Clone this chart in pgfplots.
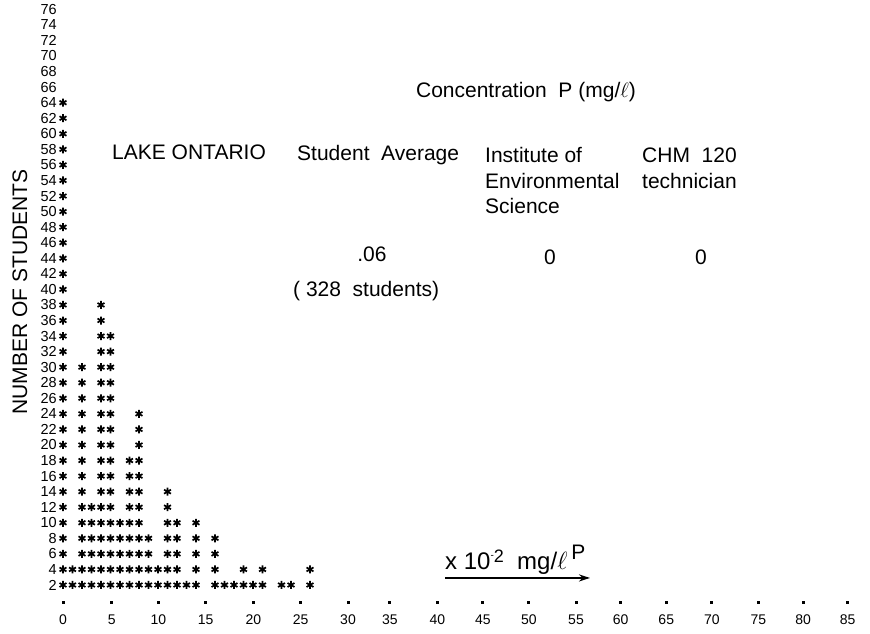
\documentclass[border=0pt]{standalone}
\usepackage{fontspec}
\setmainfont{Liberation Sans}
\usepackage{pgfplots}
\pgfplotsset{compat=1.18}
\usetikzlibrary{arrows.meta}
\begin{document}
\begin{tikzpicture}
\begin{axis}[
  scale only axis, width=807pt, height=600.56pt,
  xmin=0, xmax=84.947, ymin=0, ymax=77.2,
  axis x line*=bottom, axis y line*=left,
  axis line style={draw=none},
  clip=false,
  xtick={0,5.13,10.05,15.02,20.03,25.02,30,34.4,39.4,44.2,49.05,54.0,58.7,63.5,68.3,73.2,77.9,82.6},
  xticklabels={0,5,10,15,20,25,30,35,40,45,50,55,60,65,70,75,80,85},
  x tick style={line width=3pt, black},
  major tick length=3pt, tick align=outside,
  ytick={2,4,...,76}, y tick style={draw=none},
  /pgf/number format/assume math mode=true,
  xticklabel style={font=\fontsize{14}{14}\selectfont, anchor=north, inner sep=0pt, yshift=-11pt},
  yticklabel style={font=\fontsize{14.5}{14.5}\selectfont, anchor=east, inner sep=0pt, xshift=-3pt},
]
\addplot[only marks, mark=asterisk, mark size=4pt, mark options={line width=1.7pt, black}] coordinates {
 (0,2)(1,2)(2,2)(3,2)(4,2)(5,2)(6,2)(7,2)(8,2)(9,2)(10,2)(11,2)(12,2)(13,2)(14,2)(16,2)(17,2)(18,2)(19,2)(20,2)(21,2)(23,2)(24,2)(26,2)
 (0,4)(1,4)(2,4)(3,4)(4,4)(5,4)(6,4)(7,4)(8,4)(9,4)(10,4)(11,4)(12,4)(14,4)(16,4)(19,4)(21,4)(26,4)
 (0,6)(2,6)(3,6)(4,6)(5,6)(6,6)(7,6)(8,6)(9,6)(11,6)(12,6)(14,6)(16,6)
 (0,8)(2,8)(3,8)(4,8)(5,8)(6,8)(7,8)(8,8)(9,8)(11,8)(12,8)(14,8)(16,8)
 (0,10)(2,10)(3,10)(4,10)(5,10)(6,10)(7,10)(8,10)(11,10)(12,10)(14,10)
 (0,12)(2,12)(3,12)(4,12)(5,12)(7,12)(8,12)(11,12)
 (0,14)(2,14)(4,14)(5,14)(7,14)(8,14)(11,14)
 (0,16)(2,16)(4,16)(5,16)(7,16)(8,16)
 (0,18)(2,18)(4,18)(5,18)(7,18)(8,18)
 (0,20)(2,20)(4,20)(5,20)(8,20)
 (0,22)(2,22)(4,22)(5,22)(8,22)
 (0,24)(2,24)(4,24)(5,24)(8,24)
 (0,26)(2,26)(4,26)(5,26)
 (0,28)(2,28)(4,28)(5,28)
 (0,30)(2,30)(4,30)(5,30)
 (0,32)(4,32)(5,32)
 (0,34)(4,34)(5,34)
 (0,36)(4,36)
 (0,38)(4,38)
 (0,40)(0,42)(0,44)(0,46)(0,48)(0,50)(0,52)(0,54)(0,56)(0,58)(0,60)(0,62)(0,64)
};
\end{axis}
\node[rotate=90, font=\fontsize{21}{21}\selectfont] at (-43pt,308.6pt) {NUMBER OF STUDENTS};
\begin{scope}[every node/.style={font=\fontsize{21}{21}\selectfont, inner sep=0pt}]
\node[anchor=base] at (463pt,502.6pt) {Concentration\ \ P (mg/$\ell$)};
\node[anchor=base west] at (49pt,440.6pt) {LAKE ONTARIO};
\node[anchor=base west] at (234pt,439.6pt) {Student\ \ Average};
\node[anchor=base west] at (422pt,437.6pt) {Institute of};
\node[anchor=base west] at (422pt,412.1pt) {Environmental};
\node[anchor=base west] at (422pt,386.6pt) {Science};
\node[anchor=base west] at (579pt,437.6pt) {CHM\ \ 120};
\node[anchor=base west] at (579pt,412.1pt) {technician};
\node[anchor=base] at (309pt,338.6pt) {.06};
\node[anchor=base] at (487pt,335.6pt) {0};
\node[anchor=base] at (638pt,335.6pt) {0};
\node[anchor=base west] at (230pt,303.6pt) {( 328\ \ students)};
\end{scope}
\draw[-{Stealth[length=11pt,width=7pt]}, line width=1.8pt] (382pt,22.6pt) -- (527pt,22.6pt);
\node[anchor=base west, inner sep=0pt, font=\fontsize{24}{24}\selectfont] at (382pt,30.6pt)
  {x 10\raisebox{11pt}{\fontsize{10}{10}\selectfont -}\raisebox{7pt}{\fontsize{18}{18}\selectfont 2}\ \ mg/$\ell$\,\raisebox{10pt}{\fontsize{21}{21}\selectfont P}};
\pgfresetboundingbox
\useasboundingbox (-63pt,-33.44pt) rectangle (807pt,600.56pt);
\end{tikzpicture}
\end{document}
